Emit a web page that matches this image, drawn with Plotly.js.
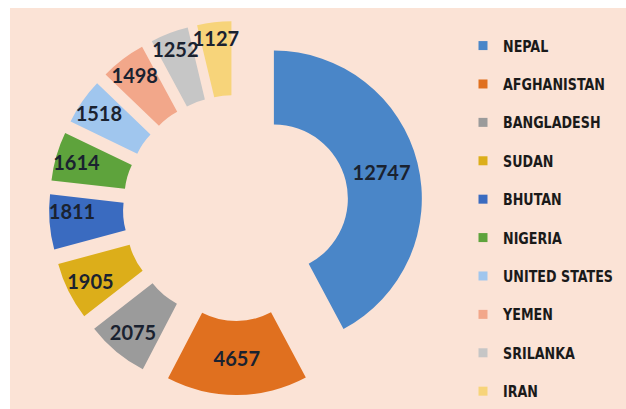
<!DOCTYPE html>
<html>
<head>
<meta charset="utf-8">
<script src="https://cdn.plot.ly/plotly-3.0.1.min.js"></script>
<style>
  html, body { margin: 0; padding: 0; background: #ffffff; width: 626px; height: 409px; overflow: hidden; }
  #chart { position: absolute; left: 10px; top: 8px; width: 616px; height: 401px; }
</style>
</head>
<body>
<div id="chart"></div>
<script>
const countries = ["NEPAL", "AFGHANISTAN", "BANGLADESH", "SUDAN", "BHUTAN", "NIGERIA", "UNITED STATES", "YEMEN", "SRILANKA", "IRAN"];
const counts = [12747, 4657, 2075, 1905, 1811, 1614, 1518, 1498, 1252, 1127];
const colors = ["#4a86c8", "#e0701f", "#9b9b9b", "#dcae1a", "#3a6bc0", "#5ea33c", "#a0c6ee", "#f2a78a", "#c6c6c6", "#f7d47a"];

const bg = "#fbe3d6";

const pieTrace = {
  type: "pie",
  labels: countries,
  values: counts,
  sort: false,
  direction: "clockwise",
  rotation: 0,
  hole: 0.5,
  pull: counts.map(() => 0.264),
  marker: { colors: colors, line: { width: 0 } },
  texttemplate: "%{value:d}",
  textposition: "inside",
  insidetextorientation: "horizontal",
  textfont: { family: "Lato, 'Open Sans', sans-serif", size: 20, color: "#1a2230", weight: "bold" },
  domain: { x: [39 / 616, 413 / 616], y: [1 - 387 / 401, 1 - 13 / 401] },
  showlegend: false,
  hoverinfo: "label+value"
};

const legendTraces = countries.map((name, i) => ({
  type: "scatter",
  mode: "markers",
  x: [null],
  y: [null],
  name: name,
  legendgroup: "g" + i,
  marker: { symbol: "square", size: 9, color: colors[i] },
  hoverinfo: "skip"
}));

const layout = {
  width: 616,
  height: 401,
  margin: { l: 0, r: 0, t: 0, b: 0, autoexpand: false },
  paper_bgcolor: bg,
  plot_bgcolor: "rgba(0,0,0,0)",
  xaxis: { visible: false },
  yaxis: { visible: false },
  showlegend: true,
  uniformtext: { minsize: 20, mode: "show" },
  legend: {
    x: 453 / 616,
    xanchor: "left",
    y: 1 - 21 / 401,
    yanchor: "top",
    bgcolor: "rgba(0,0,0,0)",
    font: { family: "'Liberation Sans Narrow', 'DejaVu Sans Condensed', 'Liberation Sans', sans-serif", size: 15.5, color: "#1a1a1a", weight: "bold" },
    tracegroupgap: 15.25,
    itemclick: false,
    itemdoubleclick: false
  }
};

Plotly.newPlot("chart", [pieTrace].concat(legendTraces), layout, { displayModeBar: false, staticPlot: true }).then(function (gd) {
  // condense legend text slightly to match the narrow bold typeface of the original
  const texts = gd.querySelectorAll(".legendtext");
  let ref = null;
  texts.forEach(function (t) { if (t.textContent === "UNITED STATES") ref = t; });
  if (ref) {
    const s = 110 / ref.getComputedTextLength();
    if (s < 1) {
      texts.forEach(function (t) {
        t.setAttribute("textLength", (t.getComputedTextLength() * s).toFixed(2));
        t.setAttribute("lengthAdjust", "spacingAndGlyphs");
      });
    }
  }
});
</script>
</body>
</html>
